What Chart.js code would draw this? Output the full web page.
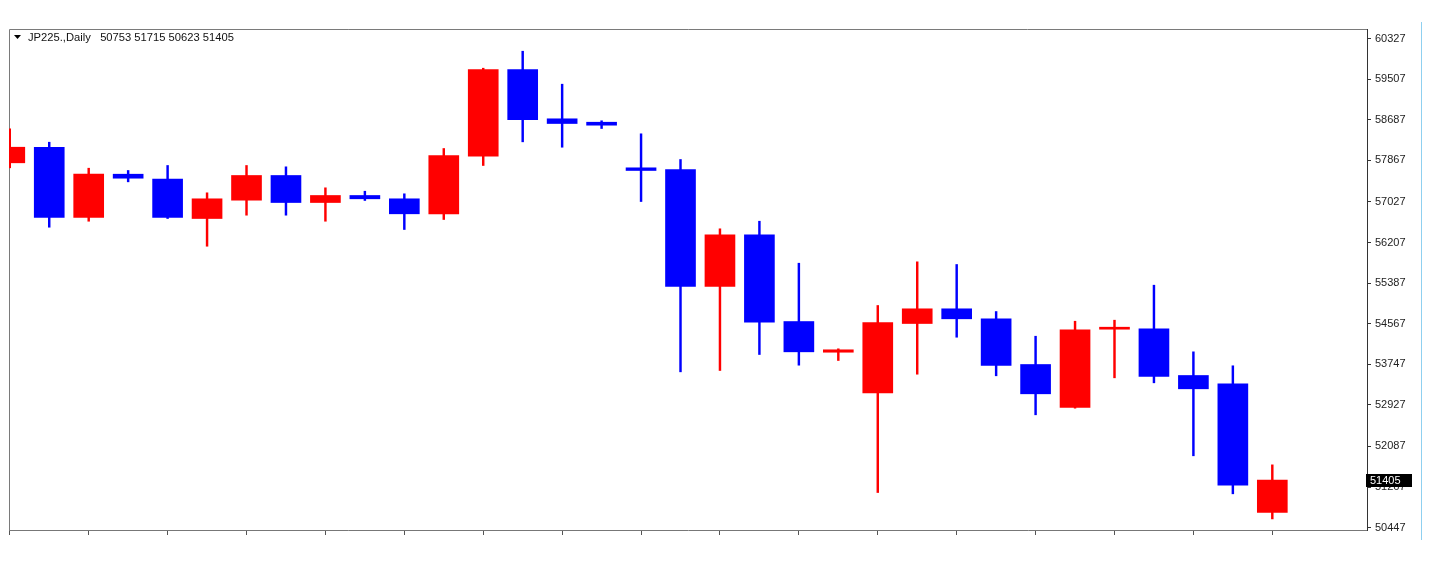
<!DOCTYPE html>
<html>
<head>
<meta charset="utf-8">
<script src="https://cdn.jsdelivr.net/npm/chart.js@4/dist/chart.umd.min.js"></script>
<style>
  html, body { margin: 0; padding: 0; background: #ffffff; }
  #wrap { position: relative; width: 1433px; height: 563px; }
  #edge { position: absolute; left: 1421px; top: 22px; width: 1px; height: 518px; background: #8fd0f0; }
</style>
</head>
<body>
<div id="wrap">
  <canvas id="c" width="1433" height="563"></canvas>
  <div id="edge"></div>
</div>
<script>
const symbol = "JP225.,Daily";
const opens  = [57816,58131,56711,57586,57485,56691,57061,57560,57014,57156,57089,56786,57950,59701,58705,58636,57715,57681,55317,56362,54610,53990,53170,54570,54867,54665,53742,52873,54455,54463,53520,53352,50753];
const highs  = [58503,58232,57707,57661,57762,57210,57762,57735,57311,57242,57190,58105,59727,60070,59404,58665,58402,57883,56483,56636,55788,54059,54934,55816,55762,54812,54313,54616,54637,55344,53998,53716,51715];
const lows   = [57715,56515,56636,57432,56691,56131,56758,56758,56636,57055,56469,56671,57762,58240,58131,58509,57034,53594,53621,53944,53728,53823,51156,53546,54293,53514,52726,52860,53473,53372,51898,51130,50623];
const closes = [58131,56711,57586,57505,56711,57089,57560,57014,57156,57089,56786,57964,59701,58685,58610,58576,57661,55317,56362,54596,53998,54039,54590,54867,54665,53722,53150,54443,54465,53499,53251,51304,51405];
const yTickValues = [60327,59507,58687,57867,57027,56207,55387,54567,53747,52927,52087,51267,50447];
const xTickIdx = [0,2,4,6,8,10,12,14,16,18,20,22,24,26,28,30,32];
const yMin = 50399, yMax = 60519;
const xMin = -0.02, xMax = 34.4;

const UP = '#ff0000', DOWN = '#0000ff';
const idx = opens.map((_, i) => i);
const colors = idx.map(i => closes[i] >= opens[i] ? UP : DOWN);
const last = opens.length - 1;

const framePlugin = {
  id: 'frame',
  beforeDatasetsDraw(chart) {
    const {ctx, chartArea: a} = chart;
    ctx.save();
    ctx.strokeStyle = '#7a7a7a';
    ctx.lineWidth = 1;
    ctx.beginPath();
    ctx.moveTo(a.left + 0.5, a.bottom);
    ctx.lineTo(a.left + 0.5, a.top + 0.5);
    ctx.lineTo(a.right, a.top + 0.5);
    ctx.stroke();
    ctx.restore();
  },
  afterDraw(chart) {
    const {ctx, chartArea: a} = chart;
    const ys = chart.scales.y;
    ctx.save();
    // header
    const hx = a.left + 5, hy = a.top + 9;
    ctx.fillStyle = '#000';
    ctx.beginPath();
    ctx.moveTo(hx, hy - 3); ctx.lineTo(hx + 7, hy - 3); ctx.lineTo(hx + 3.5, hy + 1); ctx.closePath();
    ctx.fill();
    ctx.font = '11.2px "Liberation Sans", Arial, sans-serif';
    ctx.textBaseline = 'middle';
    ctx.textAlign = 'left';
    ctx.fillStyle = '#111';
    ctx.fillText(symbol + '   ' + [opens[last], highs[last], lows[last], closes[last]].join(' '), hx + 14, hy);
    // last price box
    const py = Math.round(ys.getPixelForValue(closes[last]));
    ctx.fillStyle = '#000';
    ctx.fillRect(a.right - 1, py - 6, 46, 13);
    ctx.fillStyle = '#fff';
    ctx.font = '11px "Liberation Sans", Arial, sans-serif';
    ctx.fillText(String(closes[last]), a.right + 3, py + 0.5);
    ctx.restore();
  }
};

new Chart(document.getElementById('c'), {
  type: 'bar',
  data: {
    datasets: [
      {
        label: 'wick',
        data: idx.map(i => ({x: i, y: [lows[i], highs[i]]})),
        backgroundColor: colors,
        borderWidth: 0,
        barThickness: 1.8,
        grouped: false,
        clip: 0,
        order: 2
      },
      {
        label: 'body',
        data: idx.map(i => ({x: i, y: [opens[i], closes[i]]})),
        backgroundColor: colors,
        borderWidth: 0,
        barThickness: 30,
        minBarLength: 2,
        grouped: false,
        clip: 0,
        order: 1
      }
    ]
  },
  options: {
    responsive: false,
    animation: false,
    layout: { padding: { left: 9, top: 29, right: 10, bottom: 25 } },
    plugins: { legend: { display: false }, tooltip: { enabled: false } },
    scales: {
      x: {
        type: 'linear',
        min: xMin, max: xMax,
        offset: false,
        afterBuildTicks(s) { s.ticks = xTickIdx.map(v => ({value: v})); },
        afterFit(s) { s.height = 8; },
        ticks: { display: false },
        grid: { offset: false, drawOnChartArea: false, drawTicks: true, tickLength: 5, color: '#555', lineWidth: 1 },
        border: { display: true, color: '#777', width: 1 }
      },
      y: {
        position: 'right',
        min: yMin, max: yMax,
        afterBuildTicks(s) { s.ticks = yTickValues.map(v => ({value: v})); },
        afterFit(s) { s.width = 56; },
        ticks: {
          padding: 4,
          color: '#222',
          font: { family: '"Liberation Sans", Arial, sans-serif', size: 11 },
          callback: v => String(v)
        },
        grid: { offset: false, drawOnChartArea: false, drawTicks: true, tickLength: 4, color: '#333' },
        border: { display: true, color: '#333', width: 1 }
      }
    }
  },
  plugins: [framePlugin]
});
</script>
</body>
</html>
